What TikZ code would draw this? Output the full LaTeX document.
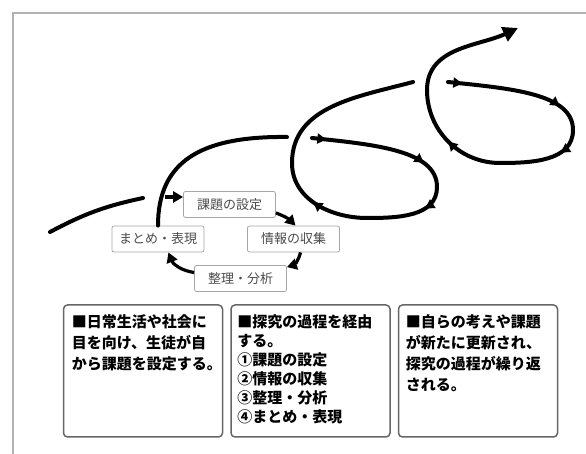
\documentclass[tikz,border=0pt]{standalone}
\usepackage{fontspec}
\newfontfamily\jpfont{Noto Sans CJK JP}
\usetikzlibrary{positioning,arrows.meta,decorations.markings}

\begin{document}
\begin{tikzpicture}[x=1pt,y=1pt,
	% --- styles ---
	spiral/.style={line width=4pt, line cap=round},
	mid arrow/.style={postaction={decorate,decoration={markings,
				mark=at position #1 with {\arrow{Triangle[length=9pt,width=10pt]}}}}},
	stage/.style={draw=black!35, rounded corners=2pt, line width=0.8pt, fill=white,
		minimum width=92pt, minimum height=26pt, inner sep=0pt,
		font=\jpfont\fontsize{13}{15}\selectfont, text=black!70},
	cycle/.style={line width=3.2pt, -{Triangle[length=10pt,width=11pt]}},
	notebox/.style={draw=black!60, rounded corners=4pt, line width=1.5pt,
		minimum width=159pt, minimum height=132pt, inner sep=0pt},
	notetext/.style={anchor=north west, align=left, inner sep=0pt,
		font=\jpfont\bfseries\fontsize{15}{21}\selectfont}
	]
	\useasboundingbox (0,0) rectangle (586,454);
	% frame
	\draw[black!30, line width=1.5pt] (13,0) -- (13,441) -- (586,441);
	
	% the four stages
	\node[stage] (kadai) at (229.5,249.5) {課題の設定};
	\node[stage] (johou) at (293.5,215) {情報の収集};
	\node[stage] (matome) at (158,215) {まとめ・表現};
	\node[stage] (seiri) at (240.5,175.5) {整理・分析};
	
	% tail coming in from the left
	\coordinate (tailA) at (50,222);
	\coordinate (tailB) at (143,256);
	\coordinate (tailC) at (165,257);
	\draw[spiral] (tailA) to[out=28,in=192] (tailB);
	\draw[cycle] (tailC) -- (kadai.west |- tailC);
	
	% first turn
	\draw[cycle] ([yshift=5pt]kadai.south east) to[bend left=12] ([xshift=2pt]johou.north);
	\draw[cycle] ([xshift=7pt]johou.south) to[bend left=30] ([yshift=-2pt]seiri.north east);
	\draw[cycle] ([yshift=6pt]seiri.west) to[bend left=30] ([xshift=-36pt]matome.south east);
	\coordinate (top1) at (287,317);
	\draw[spiral] (matome.north) .. controls (158,292) and (200,318) .. (top1);
	
	% second turn
	\coordinate (s2) at (312,316);
	\coordinate (r2) at (437,267);
	\coordinate (b2) at (367,236);
	\coordinate (l2) at (292,291);
	\coordinate (e2) at (413,372);
	\draw[spiral, mid arrow=0.1, mid arrow=0.8] (s2) to[out=-6,in=90,out looseness=1.2,in looseness=0.7] (r2);
	\draw[spiral, mid arrow=0.3] (r2) to[out=-90,in=0] (b2);
	\draw[spiral, mid arrow=0.55] (b2) to[out=180,in=-90] (l2);
	\draw[spiral] (l2) to[out=90,in=195] (e2);
	
	% third turn
	\coordinate (s3) at (448,372);
	\coordinate (r3) at (573,324);
	\coordinate (b3) at (500,291);
	\coordinate (l3) at (427,364);
	\coordinate (e3) at (518,426);
	\draw[spiral, mid arrow=0.1, mid arrow=0.8] (s3) to[out=-6,in=90,out looseness=1.2,in looseness=0.7] (r3);
	\draw[spiral, mid arrow=0.3] (r3) to[out=-90,in=0] (b3);
	\draw[spiral, mid arrow=0.5] (b3) to[out=180,in=-90] (l3);
	\draw[spiral, -{Triangle[length=15pt,width=15pt]}] (l3) to[out=90,in=205] (e3);
	
	% notes below
	\node[notebox] (note1) at (143,83) {};
	\node[notebox, right=7pt of note1] (note2) {};
	\node[notebox, right=7pt of note2] (note3) {};
	\node[notetext] (text1) at ([shift={(9pt,-10pt)}]note1.north west)
	{■日常生活や社会に\\目を向け、生徒が自\\から課題を設定する。};
	\node[notetext, font=\jpfont\bfseries\fontsize{15}{19}\selectfont] (text2) at ([shift={(7pt,-10pt)}]note2.north west)
	{■探究の過程を経由\\する。\\①課題の設定\\②情報の収集\\③整理・分析\\④まとめ・表現};
	\node[notetext] (text3) at ([shift={(8pt,-10pt)}]note3.north west)
	{■自らの考えや課題\\が新たに更新され、\\探究の過程が繰り返\\される。};
\end{tikzpicture}
\end{document}
